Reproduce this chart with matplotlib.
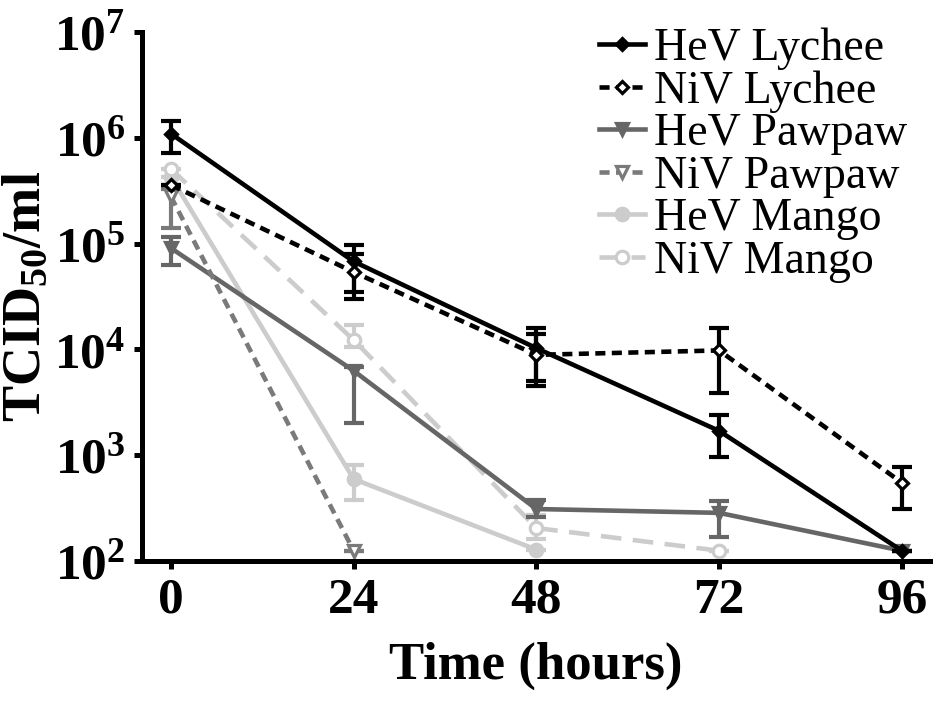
import matplotlib
matplotlib.use("Agg")
import matplotlib.pyplot as plt
import numpy as np

plt.rcParams['font.family'] = ['Liberation Serif', 'DejaVu Serif']
plt.rcParams['mathtext.fontset'] = 'custom'
plt.rcParams['mathtext.rm'] = 'Liberation Serif'
plt.rcParams['mathtext.bf'] = 'Liberation Serif:bold'
plt.rcParams['mathtext.it'] = 'Liberation Serif:italic'

hours = [0, 24, 48, 72, 96]

# values, lower error end, upper error end
hev_lychee = [1.1e6, 6.8e4, 1.03e4, 1.7e3, 125]
hev_lychee_lo = [7.2e5, 3.0e4, 4.5e3, 9.6e2, 125]
hev_lychee_hi = [1.45e6, 9.8e4, 1.6e4, 2.4e3, 125]

niv_lychee = [3.6e5, 5.4e4, 8.9e3, 9.8e3, 550]
niv_lychee_lo = [3.6e5, 3.5e4, 5.0e3, 3.9e3, 310]
niv_lychee_hi = [3.6e5, 8.0e4, 1.4e4, 1.6e4, 780]

hev_pawpaw = [9.1e4, 6.3e3, 310, 285, 125]
hev_pawpaw_lo = [6.3e4, 2.0e3, 260, 170, 125]
hev_pawpaw_hi = [1.15e5, 6.8e3, 380, 370, 125]

niv_pawpaw = [2.8e5, 125]
niv_pawpaw_lo = [1.4e5, 125]
niv_pawpaw_hi = [3.3e5, 125]

hev_mango = [4.3e5, 595, 128]
hev_mango_lo = [4.3e5, 380, 128]
hev_mango_hi = [4.3e5, 810, 128]

niv_mango = [5.1e5, 1.23e4, 205, 125]
niv_mango_lo = [5.1e5, 1.05e4, 160, 125]
niv_mango_hi = [5.1e5, 1.7e4, 270, 125]

series = [
    ("HeV Mango", hev_mango, hev_mango_lo, hev_mango_hi, '#cccccc', '-', 'o', True),
    ("NiV Mango", niv_mango, niv_mango_lo, niv_mango_hi, '#cccccc', (0, (4.5, 2.5)), 'o', False),
    ("HeV Pawpaw", hev_pawpaw, hev_pawpaw_lo, hev_pawpaw_hi, '#666666', '-', 'v', True),
    ("NiV Pawpaw", niv_pawpaw, niv_pawpaw_lo, niv_pawpaw_hi, '#7a7a7a', (0, (2.2, 1.4)), 'v', False),
    ("HeV Lychee", hev_lychee, hev_lychee_lo, hev_lychee_hi, '#000000', '-', 'D', True),
    ("NiV Lychee", niv_lychee, niv_lychee_lo, niv_lychee_hi, '#000000', (0, (2.2, 1.4)), 'D', False),
]
legend_order = ["HeV Lychee", "NiV Lychee", "HeV Pawpaw", "NiV Pawpaw", "HeV Mango", "NiV Mango"]

fig = plt.figure(figsize=(9.34, 7.02), dpi=100)
ax = fig.add_axes([0.152, 0.2009, 0.8437, 0.7531])

handles = {}
for name, vals, lo, hi, col, ls, mk, filled in series:
    x = hours[:len(vals)]
    v = np.array(vals)
    yerr = np.vstack([v - np.array(lo), np.array(hi) - v])
    ms = 6.5 if mk == 'D' else 9
    ax.errorbar(x, v, yerr=yerr, fmt='none', ecolor=col, elinewidth=3, capsize=7, capthick=3)
    ln, = ax.plot(x, v, color=col, ls=ls, lw=3.3, marker=mk, ms=ms,
                  mfc=col if filled else 'white', mec=col, mew=2.3)
    handles[name] = ln

ax.set_yscale('log')
ax.set_ylim(1e2, 1e7)
ax.set_xlim(-3.8, 99.7)
ax.set_xticks(hours)
ax.set_xticklabels([str(h) for h in hours])
exps = [2, 3, 4, 5, 6, 7]
ax.set_yticks([10.0 ** e for e in exps])
ax.set_yticklabels([r"$\mathbf{10^{%d}}$" % e for e in exps])
ax.yaxis.set_minor_locator(matplotlib.ticker.NullLocator())

for s in ['top', 'right']:
    ax.spines[s].set_visible(False)
for s in ['left', 'bottom']:
    ax.spines[s].set_linewidth(3.6)
ax.tick_params(axis='both', direction='out', length=6, width=3.6, labelsize=37, pad=6)
for lab in ax.get_xticklabels():
    lab.set_fontweight('bold')

ax.set_xlabel("Time (hours)", fontsize=38, fontweight='bold', labelpad=13)
ax.set_ylabel(r"TCID$_{\mathbf{50}}$/ml", fontsize=39, fontweight='bold', labelpad=2)

leg = ax.legend([handles[n] for n in legend_order], legend_order, loc='upper right',
                bbox_to_anchor=(0.995, 1.043), frameon=False, fontsize=33,
                handlelength=1.0, handletextpad=0.2, labelspacing=0.0,
                borderaxespad=0.0)

fig.savefig("out.png", dpi=100)
